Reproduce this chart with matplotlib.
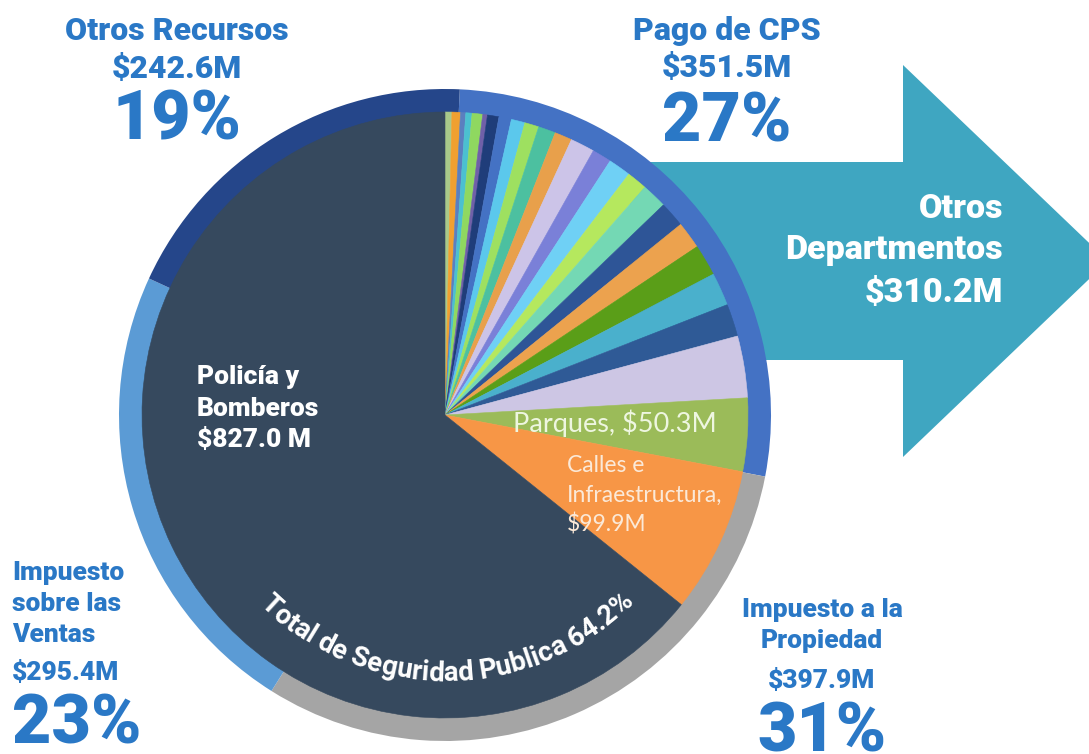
import numpy as np
import matplotlib
matplotlib.use("Agg")
import matplotlib.pyplot as plt
from matplotlib.patches import FancyArrow
from matplotlib.font_manager import FontProperties

plt.rcParams['font.family'] = ['Roboto', 'DejaVu Sans']

# Revenue ring (clockwise from top)
ring_labels = ["Pago de CPS", "Impuesto a la Propiedad", "Impuesto sobre las Ventas", "Otros Recursos"]
ring_values = [351.5, 397.9, 295.4, 242.6]
ring_colors = ["#4472c4", "#a5a5a5", "#5b9bd5", "#25468a"]

# Spending pie (clockwise from top): small departments, Parques, Calles, Policia
small_values = [4.7, 5.8, 3.6, 4.3, 7.2, 3.2, 7.9, 8.6, 9.4, 9.7, 11.9, 11.9,
                16.6, 13.3, 15.5, 14.0, 17.3, 17.6, 18.7, 21.6, 22.7, 22.3, 42.4]
small_colors = ["#a9c98a", "#f0a030", "#5b7fbf", "#4bc0d0", "#8fd860", "#7060a8",
                "#1f3d7a", "#4472c4", "#5bc8ec", "#9ee060", "#4cc0a0", "#e8a04b",
                "#ccc4e8", "#7a80d8", "#6fd0f5", "#b5e85e", "#74d8b4", "#2e5597",
                "#eca24e", "#5a9e18", "#4ab0cc", "#2f5a96", "#cdc6e4"]
parques = 50.3
calles = 99.9
policia = 827.0
otros_dept = 310.2
seguridad_pct = 64.2

W, H = 1089, 754
cx, cy = 445, H - 415
r_outer = 326
r_inner = 303
blue = "#2a78c6"
heavy = 'black'


def Y(y):
    return H - y


fig = plt.figure(figsize=(W / 100, H / 100), dpi=100)
ax = fig.add_axes([0, 0, 1, 1])

# arrow behind the pie
arrow = FancyArrow(630, Y(261), 1108 - 630, 0, width=198, head_width=392,
                   head_length=205, length_includes_head=True,
                   color="#3fa6c1", linewidth=0, zorder=1)
ax.add_patch(arrow)

wedges, _ = ax.pie(ring_values, colors=ring_colors, radius=r_outer, center=(cx, cy),
                   startangle=87.4, counterclock=False,
                   wedgeprops=dict(width=r_outer - r_inner + 1, linewidth=0))
for w in wedges:
    w.set_zorder(2)

inner_values = small_values + [parques, calles, policia]
inner_colors = small_colors + ["#9bbb59", "#f79646", "#36495e"]
wedges, _ = ax.pie(inner_values, colors=inner_colors, radius=r_inner, center=(cx, cy),
                   startangle=90, counterclock=False)
for w in wedges:
    w.set_zorder(3)
    w.set_edgecolor(w.get_facecolor())
    w.set_linewidth(0.4)

ax.set_xlim(0, W)
ax.set_ylim(0, H)
ax.set_aspect('auto')
ax.axis('off')

# outer labels
def lines(x, items, ha):
    for txt, yb, size in items:
        ax.text(x, Y(yb), txt, ha=ha, va='baseline', fontsize=size,
                fontweight=heavy, color=blue, zorder=5)

lines(177, [("Otros Recursos", 40, 23), ("$%.1fM" % ring_values[3], 78, 23),
            ("%d%%" % round(100 * ring_values[3] / sum(ring_values)), 139, 49)], 'center')
lines(727, [("Pago de CPS", 40, 23), ("$%.1fM" % ring_values[0], 77, 23),
            ("%d%%" % round(100 * ring_values[0] / sum(ring_values)), 142, 49)], 'center')
lines(12, [("Impuesto", 580, 19), ("sobre las", 611, 19), ("Ventas", 642, 19),
           ("$%.1fM" % ring_values[2], 680, 19),
           ("%d%%" % round(100 * ring_values[2] / sum(ring_values)), 744, 49)], 'left')
lines(822, [("Impuesto a la", 617, 19), ("Propiedad", 648, 19),
            ("$%.1fM" % ring_values[1], 688, 19),
            ("%d%%" % round(100 * ring_values[1] / sum(ring_values)), 751, 49)], 'center')

for txt, yb in [("Otros", 218), ("Departmentos", 259), ("$%.1fM" % otros_dept, 302)]:
    ax.text(1003, Y(yb), txt, ha='right', va='baseline', fontsize=24.5,
            fontweight=heavy, color='white', zorder=5)

for txt, yb in [("Policía y", 384), ("Bomberos", 416), ("$%.1f M" % policia, 447)]:
    ax.text(197, Y(yb), txt, ha='left', va='baseline', fontsize=19,
            fontweight=heavy, color='white', zorder=5)

ax.text(513, Y(432), "Parques, $%.1fM" % parques, ha='left', va='baseline',
        fontsize=19.5, family='Lato', color='#eef6e0', zorder=5)
for txt, yb in [("Calles e", 472), ("Infraestructura,", 502), ("$%.1fM" % calles, 532)]:
    ax.text(567, Y(yb), txt, ha='left', va='baseline', fontsize=16.5,
            family='Lato', color='#fbe9d8', zorder=5)

# curved text along the bottom
curve = "Total de Seguridad Publica %.1f%%" % seguridad_pct
fp = FontProperties(family='Roboto', weight='bold', size=19.8)
renderer = fig.canvas.get_renderer()


def tw(s):
    if not s:
        return 0.0
    return renderer.get_text_width_height_descent(s, fp, ismath=False)[0]


R = 266
total = tw(curve)
theta_c = np.deg2rad(-89.5)
theta0 = theta_c - total / (2 * R)
for i, ch in enumerate(curve):
    off = (tw(curve[:i]) + tw(curve[:i + 1])) / 2
    th = theta0 + off / R
    ax.text(cx + R * np.cos(th), cy + R * np.sin(th), ch, fontproperties=fp,
            color='white', ha='center', va='baseline',
            rotation=np.rad2deg(th) + 90, rotation_mode='anchor', zorder=5)

fig.savefig("out.png", dpi=100)
